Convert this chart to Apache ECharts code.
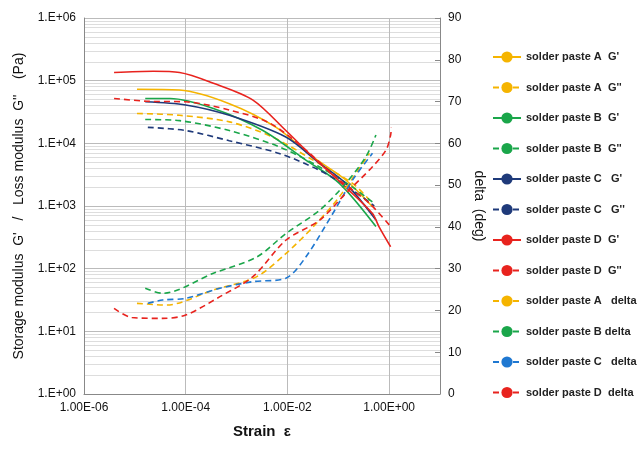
<!DOCTYPE html>
<html>
<head>
<meta charset="utf-8">
<script src="https://cdn.jsdelivr.net/npm/echarts@6/dist/echarts.min.js"></script>
<style>html,body{margin:0;padding:0;background:#fff}#chart{width:642px;height:456px}</style>
</head>
<body>
<div id="chart"></div>
<script>
// Strain values (x) and moduli (Pa) / delta (deg)
const aGpX = [1.1e-5, 7.6e-5, 7.2e-4, 6.0e-3, 0.032, 0.14, 0.47];
const aGpY = [7.3e4, 7.1e4, 4.3e4, 1.8e4, 6.0e3, 2.6e3, 970];
const aGppX = [1.1e-5, 7.6e-5, 7.2e-4, 5.1e-3, 0.032, 0.19, 0.47];
const aGppY = [3.0e4, 2.8e4, 2.2e4, 1.26e4, 5.4e3, 2.3e3, 1.1e3];
const bGpX = [1.6e-5, 4.9e-5, 3.5e-4, 3.3e-3, 0.023, 0.105, 0.55];
const bGpY = [5.2e4, 5.2e4, 3.6e4, 1.6e4, 5.4e3, 2.3e3, 470];
const bGppX = [1.6e-5, 7.6e-5, 7.2e-4, 6.9e-3, 0.043, 0.19, 0.51];
const bGppY = [2.4e4, 2.3e4, 1.6e4, 8.8e3, 4.2e3, 2.0e3, 1.1e3];
const cGpX = [1.6e-5, 1.0e-4, 7.2e-4, 9.3e-3, 0.043, 0.14, 0.55];
const cGpY = [4.6e4, 4.1e4, 2.8e4, 1.26e4, 4.8e3, 2.3e3, 600];
const cGppX = [1.8e-5, 1.0e-4, 7.2e-4, 6.9e-3, 0.043, 0.19, 0.51];
const cGppY = [1.8e4, 1.6e4, 1.1e4, 6.9e3, 3.7e3, 1.8e3, 1.0e3];
const dGpX = [3.9e-6, 2.3e-5, 7.6e-5, 3.5e-4, 2.1e-3, 9.3e-3, 0.032, 0.14, 0.47, 0.63, 1.07];
const dGpY = [1.35e5, 1.41e5, 1.35e5, 9.1e4, 4.9e4, 1.6e4, 6.0e3, 2.0e3, 760, 470, 224];
const dGppX = [3.9e-6, 1.7e-5, 1.0e-4, 7.2e-4, 4.5e-3, 0.023, 0.105, 0.41, 1.07];
const dGppY = [5.2e4, 4.7e4, 4.6e4, 3.4e4, 2.1e4, 7.8e3, 2.6e3, 1.1e3, 470];

const aDX = [1.1e-5, 4.2e-5, 3.5e-4, 2.5e-3, 9.3e-3, 0.032, 0.105, 0.41];
const aDY = [21.7, 21.3, 24.9, 28.1, 33.6, 40.0, 47.2, 57.6];
const bDX = [1.6e-5, 3.5e-5, 3.5e-4, 2.5e-3, 9.3e-3, 0.043, 0.14, 0.35, 0.55];
const bDY = [25.3, 24.1, 28.9, 32.8, 38.4, 44.0, 50.4, 56.8, 62.0];
const cDX = [1.8e-5, 3.5e-5, 1.0e-4, 4.7e-4, 2.1e-3, 9.3e-3, 0.023, 0.078, 0.19, 0.47];
const cDY = [21.7, 22.5, 22.9, 25.3, 26.9, 27.7, 32.8, 43.2, 51.2, 57.6];
const dDX = [3.9e-6, 8.7e-6, 3.5e-5, 1.0e-4, 4.7e-4, 2.1e-3, 9.3e-3, 0.043, 0.14, 0.47, 0.87, 1.07, 1.1];
const dDY = [20.5, 18.3, 18.1, 18.9, 23.3, 28.1, 36.8, 41.6, 48.0, 54.4, 58.4, 62.0, 63.8];

const yTickLabels = ['1.E+00', '1.E+01', '1.E+02', '1.E+03', '1.E+04', '1.E+05', '1.E+06'];

const YEL = '#F5B400', GRN = '#1AA64A', NAVY = '#1F3A7A', RED = '#E8231E', BLUE = '#1F78D1';

function zip(xs, ys) { return xs.map((x, i) => [x, ys[i]]); }
function line(name, xs, ys, color, dashed, yIdx) {
  return {
    name: name, type: 'line', smooth: 0.3, symbol: 'none', yAxisIndex: yIdx || 0,
    data: zip(xs, ys),
    lineStyle: { color: color, width: 1.6, type: dashed ? [6, 4] : 'solid' },
    itemStyle: { color: color }
  };
}

const series = [
  line("solder paste A  G'", aGpX, aGpY, YEL, false),
  line("solder paste A  G''", aGppX, aGppY, YEL, true),
  line("solder paste B  G'", bGpX, bGpY, GRN, false),
  line("solder paste B  G''", bGppX, bGppY, GRN, true),
  line("solder paste C   G'", cGpX, cGpY, NAVY, false),
  line("solder paste C   G''", cGppX, cGppY, NAVY, true),
  line("solder paste D  G'", dGpX, dGpY, RED, false),
  line("solder paste D  G''", dGppX, dGppY, RED, true),
  line("solder paste A   delta", aDX, aDY, YEL, true, 1),
  line("solder paste B delta", bDX, bDY, GRN, true, 1),
  line("solder paste C   delta", cDX, cDY, BLUE, true, 1),
  line("solder paste D  delta", dDX, dDY, RED, true, 1)
];

const chart = echarts.init(document.getElementById('chart'));
const font = 'Liberation Sans, Arial, sans-serif';
chart.setOption({
  animation: false,
  textStyle: { fontFamily: font },
  grid: { left: 84, right: 202, top: 18, bottom: 62 },
  legend: {
    orient: 'vertical', left: 487, top: 45,
    itemWidth: 28, itemHeight: 14, itemGap: 16.5,
    textStyle: { fontSize: 11, fontWeight: 'bold', color: '#222', fontFamily: font, lineHeight: 14, padding: [0, 0, 0, 0] },
    data: series.map(s => s.name)
  },
  xAxis: {
    type: 'log', logBase: 100, min: 1e-6, max: 10,
    name: 'Strain  ε', nameLocation: 'middle', nameGap: 30,
    nameTextStyle: { fontSize: 15, fontWeight: 'bold', color: '#111' },
    axisLine: { lineStyle: { color: '#888' } },
    axisTick: { show: false },
    axisLabel: { color: '#111', fontSize: 12, formatter: v => v.toExponential(2).toUpperCase().replace(/E([+-])(\d)$/, 'E$10$2') },
    splitLine: { show: true, lineStyle: { color: '#bbb' } }
  },
  yAxis: [{
    type: 'log', min: 1, max: 1e6,
    name: "Storage modulus  G'   /   Loss modulus  G''    (Pa)", nameLocation: 'middle', nameGap: 58,
    nameTextStyle: { fontSize: 14, color: '#111' },
    axisLine: { show: true, lineStyle: { color: '#888' } },
    axisTick: { show: false },
    axisLabel: { color: '#111', fontSize: 12, formatter: v => yTickLabels[Math.round(Math.log10(v))] },
    splitLine: { show: true, lineStyle: { color: '#bbb' } },
    minorTick: { show: false, splitNumber: 9 },
    minorSplitLine: { show: true, lineStyle: { color: '#ddd' } }
  }, {
    type: 'value', min: 0, max: 90, interval: 10,
    name: 'delta  (deg)', nameLocation: 'middle', nameGap: 30, nameRotate: -90,
    nameTextStyle: { fontSize: 14, color: '#111' },
    axisLine: { show: true, lineStyle: { color: '#888' } },
    axisTick: { show: true, inside: true, lineStyle: { color: '#888' } },
    axisLabel: { color: '#111', fontSize: 12 },
    splitLine: { show: false }
  }],
  series: series
});
</script>
</body>
</html>
